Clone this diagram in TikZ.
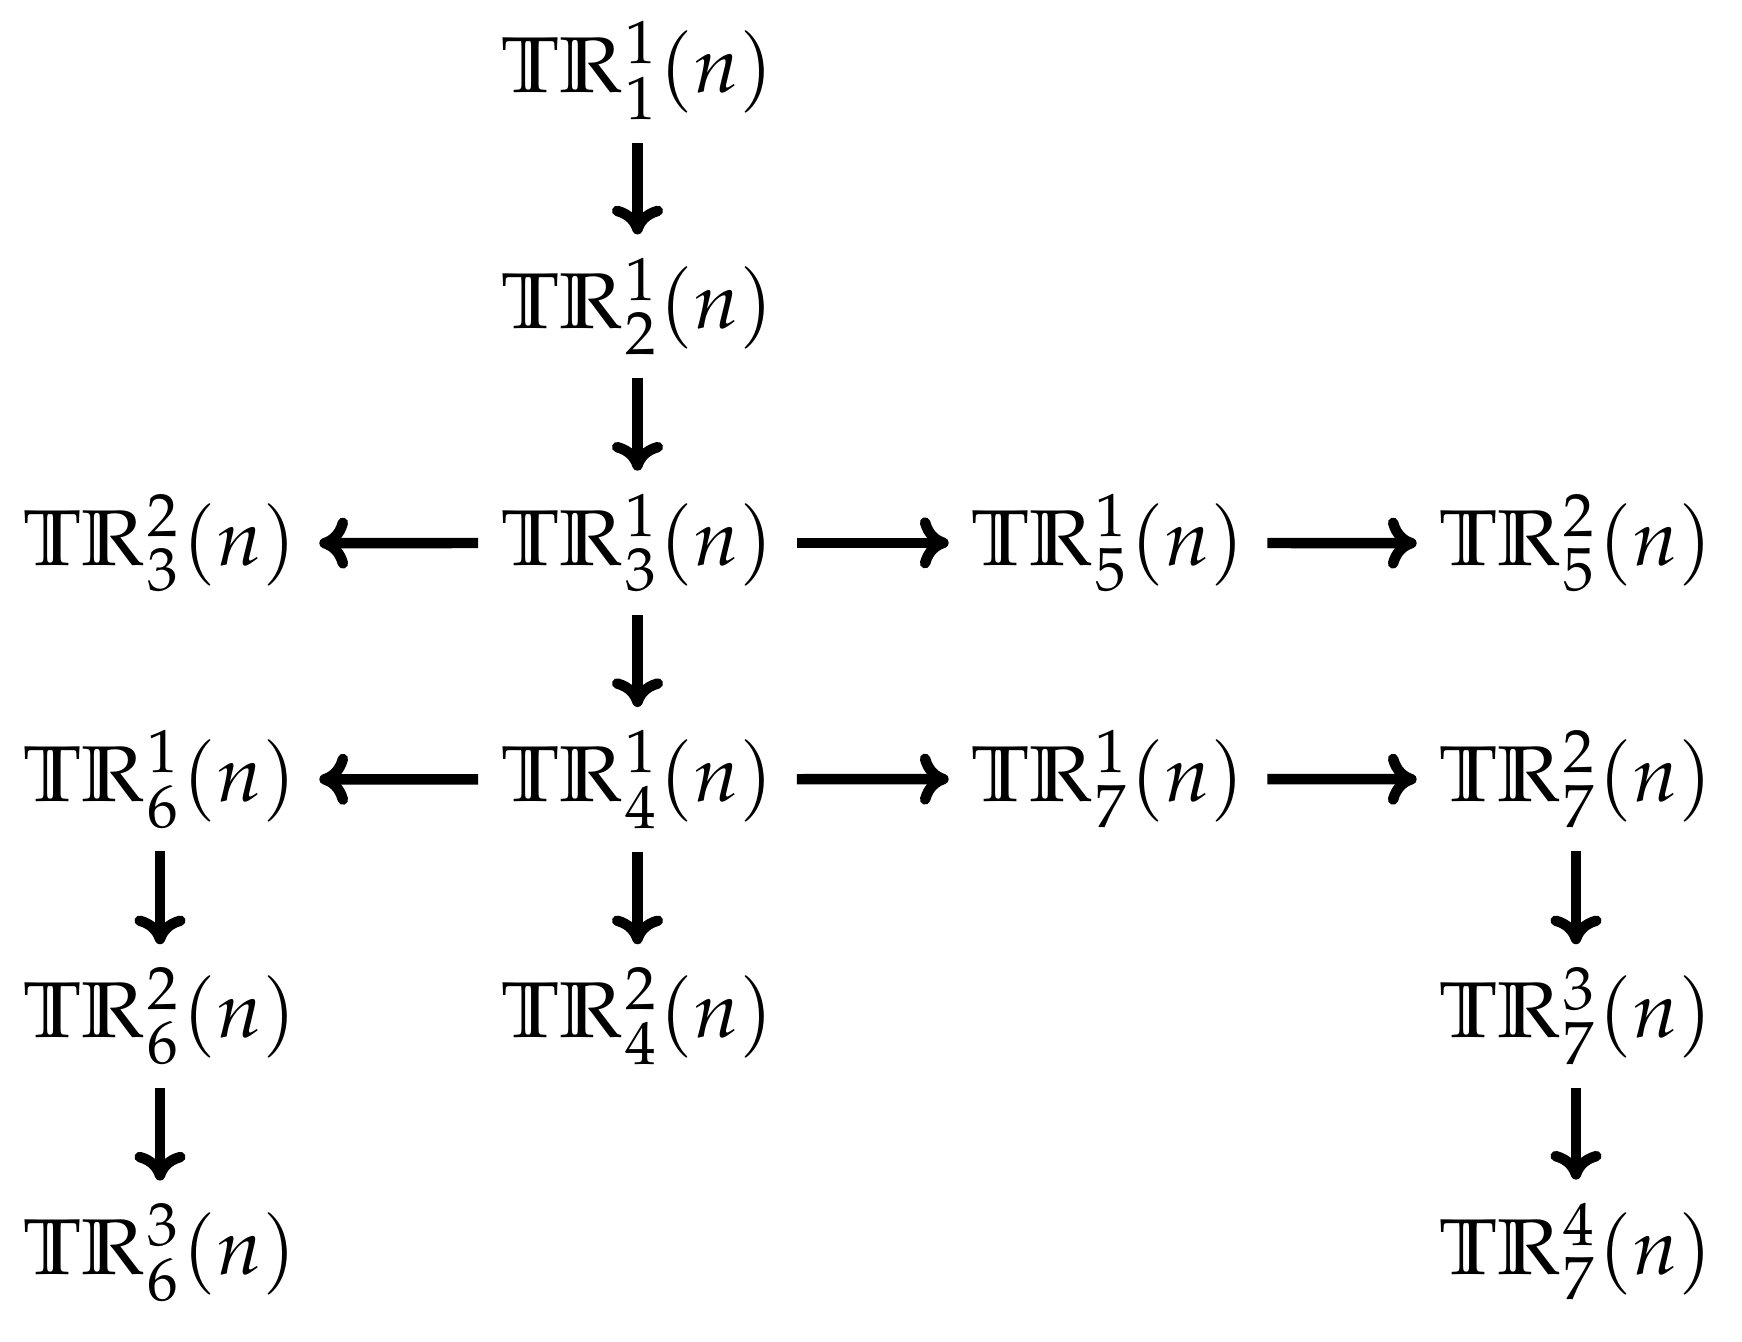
\documentclass[tikz,border=0pt]{standalone}
\usepackage{mathpazo}
\usetikzlibrary{arrows.meta}
\DeclareMathSizes{9.6}{9.6}{7.4}{5.5}
\newcommand{\TRn}[2]{$\mathbb{T}\mathbb{R}^{#1}_{#2}(n)$}
\tikzset{
  obj/.style={anchor=base, inner sep=2.6pt, font=\fontsize{9.6}{11.5}\selectfont},
  cdarrow/.style={line width=1.27pt, -{Computer Modern Rightarrow[length=3.5pt,width=6.2pt]}}
}
\begin{document}
\begin{tikzpicture}[x=0.1214pt,y=-0.1214pt]
\useasboundingbox (0,0) rectangle (1742,1342);
\node[obj] (a11) at (637.5,92.5) {\TRn{1}{1}};
\node[obj] (a12) at (637.5,328.8) {\TRn{1}{2}};
\node[obj] (a13) at (637.5,565) {\TRn{1}{3}};
\node[obj] (a23) at (160,565) {\TRn{2}{3}};
\node[obj] (a15) at (1108,565) {\TRn{1}{5}};
\node[obj] (a25) at (1576,565) {\TRn{2}{5}};
\node[obj] (a14) at (637.5,801.4) {\TRn{1}{4}};
\node[obj] (a16) at (160,801.4) {\TRn{1}{6}};
\node[obj] (a17) at (1108,801.4) {\TRn{1}{7}};
\node[obj] (a27) at (1576,801.4) {\TRn{2}{7}};
\node[obj] (a26) at (160,1037.7) {\TRn{2}{6}};
\node[obj] (a24) at (637.5,1037.7) {\TRn{2}{4}};
\node[obj] (a37) at (1576,1037.7) {\TRn{3}{7}};
\node[obj] (a36) at (160,1274) {\TRn{3}{6}};
\node[obj] (a47) at (1576,1274) {\TRn{4}{7}};
\draw[cdarrow] (a11) -- (a12);
\draw[cdarrow] (a12) -- (a13);
\draw[cdarrow] (a13) -- (a23);
\draw[cdarrow] (a13) -- (a15);
\draw[cdarrow] (a15) -- (a25);
\draw[cdarrow] (a13) -- (a14);
\draw[cdarrow] (a14) -- (a16);
\draw[cdarrow] (a14) -- (a17);
\draw[cdarrow] (a17) -- (a27);
\draw[cdarrow] (a16) -- (a26);
\draw[cdarrow] (a26) -- (a36);
\draw[cdarrow] (a14) -- (a24);
\draw[cdarrow] (a27) -- (a37);
\draw[cdarrow] (a37) -- (a47);
\end{tikzpicture}
\end{document}
